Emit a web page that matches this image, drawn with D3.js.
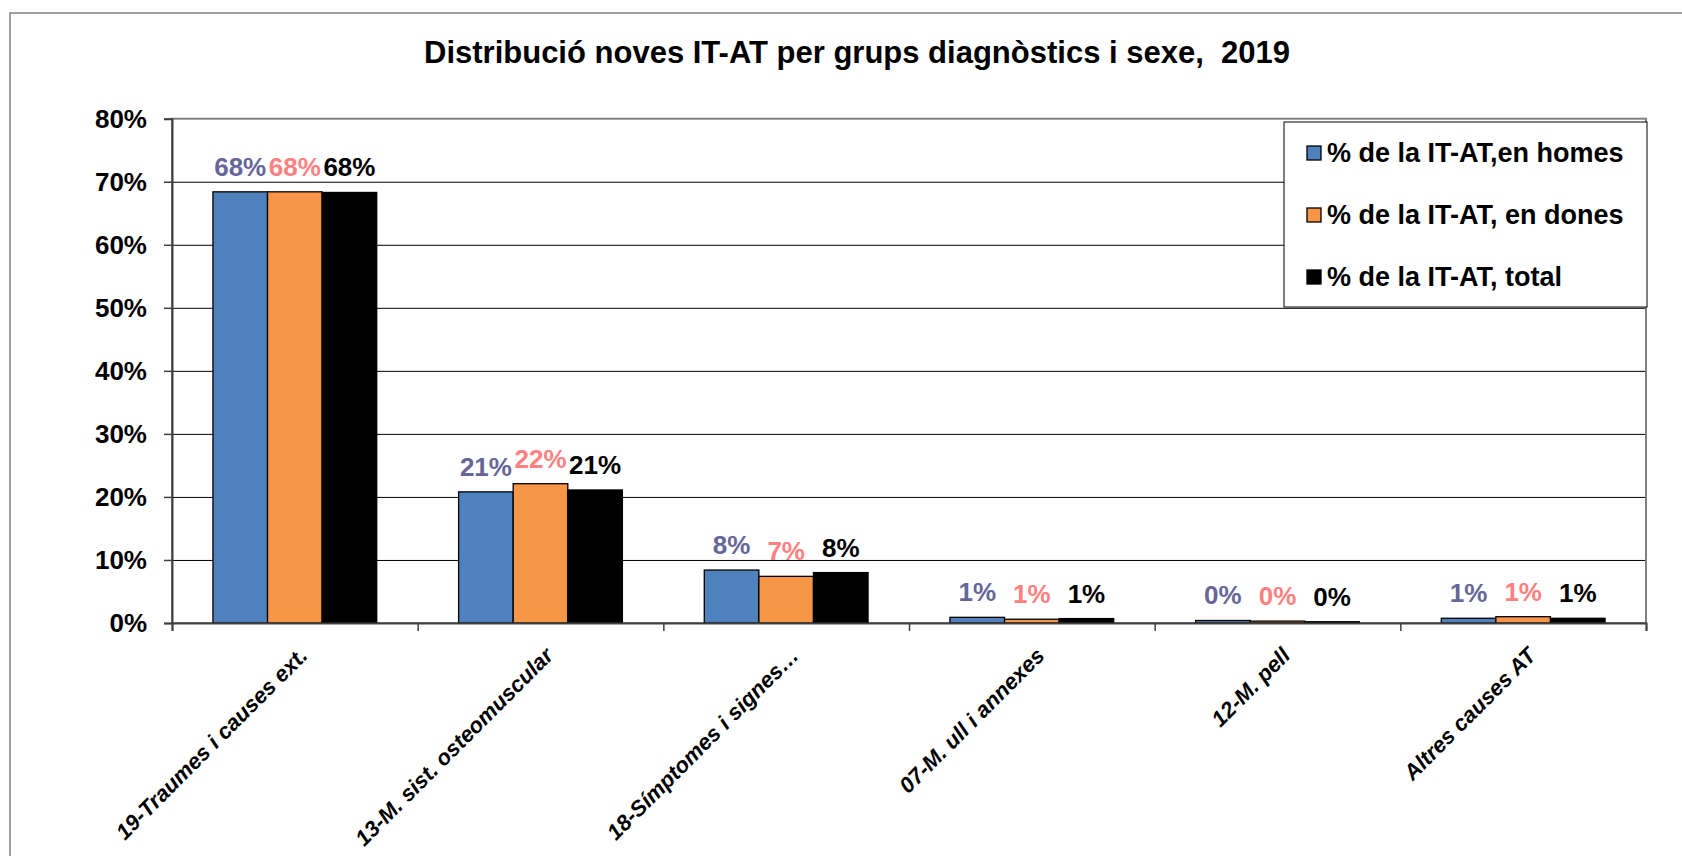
<!DOCTYPE html>
<html>
<head>
<meta charset="utf-8">
<script src="https://cdn.jsdelivr.net/npm/d3@7"></script>
<style>
  body { margin: 0; background: #fff; }
  text { font-family: "Liberation Sans", Arial, sans-serif; font-weight: bold; }
</style>
</head>
<body>
<div id="chart"></div>
<script>
// chart data (percent values)
const categories = ["19-Traumes i causes ext.", "13-M. sist. osteomuscular", "18-Símptomes i signes…",
                    "07-M. ull i annexes", "12-M. pell", "Altres causes AT"];
const homes = [68.4, 20.8, 8.4, 0.9, 0.4, 0.75];
const dones = [68.4, 22.1, 7.4, 0.6, 0.3, 1.0];
const total = [68.3, 21.1, 8.0, 0.7, 0.2, 0.75];
const seriesNames = ["% de la IT-AT,en homes", "% de la IT-AT, en dones", "% de la IT-AT, total"];
const yTicks = [0, 10, 20, 30, 40, 50, 60, 70, 80];
const title = "Distribució noves IT-AT per grups diagnòstics i sexe,  2019";

const fills = ["#4F81BD", "#F79646", "#000000"];
const labelColors = ["#666699", "#FF8080", "#000000"];
const series = [homes, dones, total];

var width = 1682, height = 856;
var plot = {left: 172, right: 1646, top: 118.7, bottom: 623};

var svg = d3.select("#chart").append("svg")
  .attr("width", width)
  .attr("height", height);

// outer chart border (cropped on right and bottom)
svg.append("rect")
  .attr("x", 10).attr("y", 13)
  .attr("width", width).attr("height", height)
  .attr("fill", "#fff")
  .attr("stroke", "#808080")
  .attr("stroke-width", 1.5);

svg.append("text")
  .attr("x", 857).attr("y", 63)
  .attr("text-anchor", "middle")
  .style("font-size", "31px")
  .style("white-space", "pre")
  .text(title);

var x = d3.scaleBand()
  .domain(categories)
  .range([plot.left, plot.right])
  .paddingInner(1 / 3)
  .paddingOuter(1 / 6);

var xs = d3.scaleBand()
  .domain(d3.range(series.length))
  .range([0, x.bandwidth()]);

var y = d3.scaleLinear()
  .domain([0, 80])
  .range([plot.bottom, plot.top]);

// gridlines
svg.append("g")
  .attr("transform", "translate(" + plot.left + ",0)")
  .call(d3.axisLeft(y).tickValues(yTicks.slice(1, -1)).tickSize(-(plot.right - plot.left)).tickFormat(""))
  .call(g => g.select(".domain").remove())
  .selectAll("line").attr("stroke", "#000").attr("stroke-width", 1);

// plot area border
svg.append("rect")
  .attr("x", plot.left).attr("y", plot.top)
  .attr("width", plot.right - plot.left).attr("height", plot.bottom - plot.top)
  .attr("fill", "none")
  .attr("stroke", "#808080")
  .attr("stroke-width", 2);

// bars
var groups = svg.append("g").selectAll("g")
  .data(series)
  .enter().append("g")
  .attr("fill", (d, i) => fills[i]);

groups.selectAll("rect")
  .data((d, i) => d.map((v, j) => ({v: v, s: i, c: categories[j]})))
  .enter().append("rect")
  .attr("x", d => x(d.c) + xs(d.s))
  .attr("y", d => y(d.v))
  .attr("width", xs.bandwidth())
  .attr("height", d => y(0) - y(d.v))
  .attr("stroke", "#000")
  .attr("stroke-width", 1.3);

// data labels
groups.selectAll("text")
  .data((d, i) => d.map((v, j) => ({v: v, s: i, c: categories[j]})))
  .enter().append("text")
  .attr("x", d => x(d.c) + xs(d.s) + xs.bandwidth() / 2)
  .attr("y", d => y(d.v) - 16)
  .attr("text-anchor", "middle")
  .attr("fill", d => labelColors[d.s])
  .style("font-size", "26px")
  .text(d => Math.round(d.v) + "%");

// y axis
var yAxis = svg.append("g")
  .attr("transform", "translate(" + plot.left + ",0)")
  .call(d3.axisLeft(y).tickValues(yTicks).tickSize(8).tickPadding(17).tickFormat(d => d + "%"));
yAxis.select(".domain").attr("stroke", "#404040").attr("stroke-width", 2);
yAxis.selectAll("line").attr("stroke", "#404040").attr("stroke-width", 1.5);
yAxis.selectAll("text").attr("fill", "#000").style("font-size", "26px").style("font-family", "'Liberation Sans', Arial, sans-serif");

// x axis: ticks between categories
var xEdge = d3.scaleLinear().domain([0, categories.length]).range([plot.left, plot.right]);
var xAxis = svg.append("g")
  .attr("transform", "translate(0," + plot.bottom + ")")
  .call(d3.axisBottom(xEdge).ticks(categories.length).tickSize(8).tickFormat(""));
xAxis.select(".domain").attr("stroke", "#404040").attr("stroke-width", 2);
xAxis.selectAll("line").attr("stroke", "#404040").attr("stroke-width", 1.5);

// category labels, rotated
svg.append("g").selectAll("text")
  .data(categories)
  .enter().append("text")
  .attr("transform", d => "translate(" + (x(d) + x.bandwidth() / 2 + 14) + "," + (plot.bottom + 34) + ") rotate(-45)")
  .attr("text-anchor", "end")
  .style("font-size", "22px")
  .style("font-style", "italic")
  .text(d => d);

// legend
var legend = svg.append("g").attr("transform", "translate(1284,122)");
legend.append("rect")
  .attr("width", 363).attr("height", 185)
  .attr("fill", "#fff")
  .attr("stroke", "#000")
  .attr("stroke-width", 1);

var item = legend.selectAll(".item")
  .data(seriesNames)
  .enter().append("g")
  .attr("class", "item")
  .attr("transform", (d, i) => "translate(0," + (31 + i * 62) + ")");

item.append("rect")
  .attr("x", 23).attr("y", -7)
  .attr("width", 14).attr("height", 14)
  .attr("fill", (d, i) => fills[i])
  .attr("stroke", "#000")
  .attr("stroke-width", 1.3);

item.append("text")
  .attr("x", 43).attr("dy", "0.35em")
  .style("font-size", "27px")
  .text(d => d);
</script>
</body>
</html>
